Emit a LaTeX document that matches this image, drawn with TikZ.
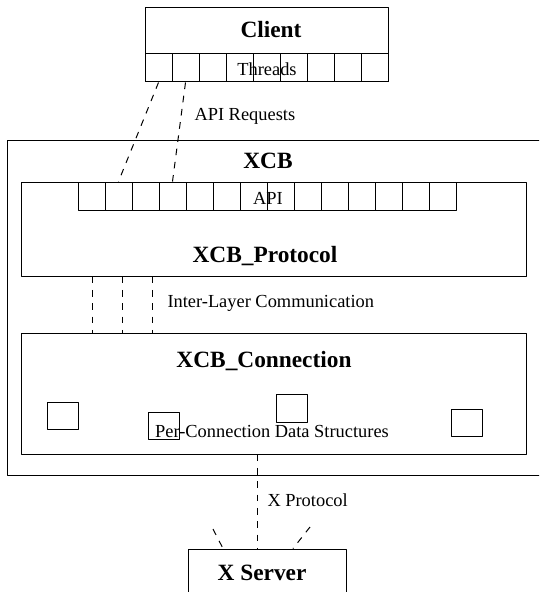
\documentclass[tikz,border=0pt]{standalone}
\usepackage{fontspec}
\setmainfont{Liberation Serif}
\begin{document}
\begin{tikzpicture}[x=0.75pt, y=-0.75pt, line width=0.75pt, line join=round,
  box/.style={draw, rectangle, inner sep=0pt},
  cell/.style={draw, rectangle, inner sep=0pt, minimum width=20.25pt, minimum height=21pt},
  datum/.style={draw, rectangle, inner sep=0pt, minimum width=23pt, minimum height=20.5pt},
  title/.style={inner sep=0pt, font=\fontsize{17.5}{21}\selectfont\bfseries},
  note/.style={inner sep=0pt, font=\fontsize{13.8}{16}\selectfont},
  comm/.style={dash pattern=on 5pt off 5pt}]
  \clip (0,0) rectangle (539,592);

  % Boxes
  \node[box, minimum width=403.5pt, minimum height=251.25pt] (xcb) at (276,307.5) {};
  \node[box, minimum width=182.25pt, minimum height=55.5pt] (client) at (266.5,45) {};
  \node[box, minimum width=378.75pt, minimum height=70.5pt] (proto) at (273.5,229) {};
  \node[box, minimum width=378.75pt, minimum height=90.75pt] (conn) at (273.5,393.5) {};
  \node[box, minimum width=118.5pt, minimum height=53.25pt] (server) at (267,584.5) {};

  % Threads and API cells
  \foreach \i in {1,...,9}
    \node[cell] (t\i) at ({145+27*(\i-0.5)},68) {};
  \foreach \i in {1,...,14}
    \node[cell] (a\i) at ({78+27*(\i-0.5)},196) {};

  % Per-connection data
  \node[datum] (d1) at (63,415.7) {};
  \node[datum] (d2) at (164,426) {};
  \node[datum] (d3) at (292,408.6) {};
  \node[datum] (d4) at (467,423) {};

  % Labels
  \node[title] (lclient) at (271,30) {Client};
  \node[note] (lthreads) at (267,69) {Threads};
  \node[title] (lxcb) at (268,161) {XCB};
  \node[note] (lapi) at (268,198) {API};
  \node[title] (lproto) at (265,256) {XCB\_Protocol};
  \node[title] (lconn) at (264,361) {XCB\_Connection};
  \node[note] (ldata) at (272,431) {Per-Connection Data Structures};
  \node[title] (lserver) at (262,573) {X Server};
  \node[note, anchor=west] (lreq) at (194,116.5) {API Requests};
  \node[note, anchor=west] (llayer) at (167,303) {Inter-Layer Communication};
  \node[note, anchor=west] (lxp) at (267,500) {X Protocol};

  % Connectors
  \draw[comm] (t1.south) -- (a2.north);
  \draw[comm] (t2.south) -- (a4.north);
  \coordinate (il1) at (92,300);
  \coordinate (il2) at (122,300);
  \coordinate (il3) at (152,300);
  \foreach \c in {il1,il2,il3}
    \draw[comm] (proto.south -| \c) -- (conn.north -| \c);
  \coordinate (xp) at (257,500);
  \draw[comm] (conn.south -| xp) -- (server.north -| xp);
  \coordinate (sl) at (213,529);
  \coordinate (sr) at (310,527);
  \draw[comm] (sl) -- ([xshift=-33pt]server.north);
  \draw[comm] (sr) -- ([xshift=19.5pt]server.north);
\end{tikzpicture}
\end{document}
